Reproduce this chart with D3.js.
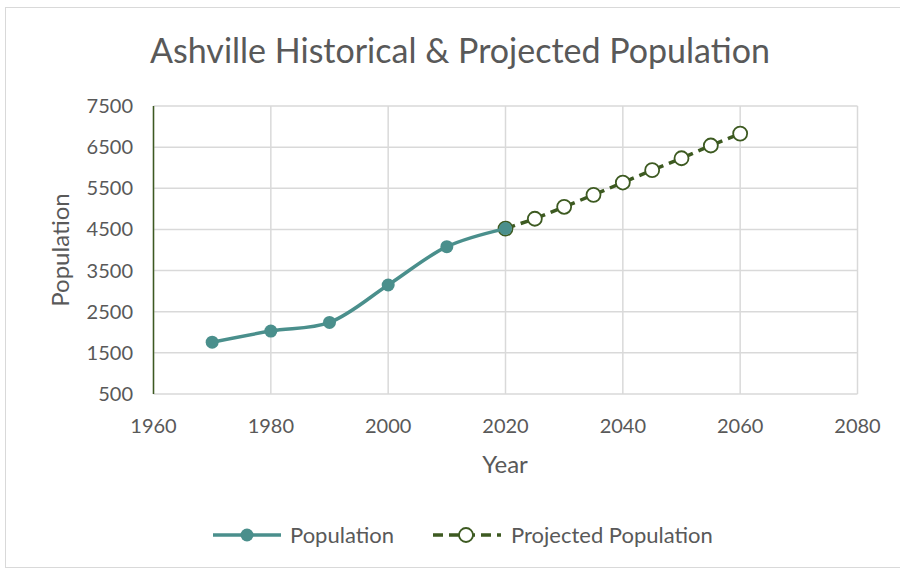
<!DOCTYPE html>
<html>
<head>
<meta charset="utf-8">
<script src="https://cdn.jsdelivr.net/npm/d3@7"></script>
<style>
  body { margin: 0; background: #fff; }
  text { font-family: Lato, "Liberation Sans", sans-serif; fill: #595959; }
</style>
</head>
<body>
<div id="chart"></div>
<script>
// data
const years = [1970, 1980, 1990, 2000, 2010, 2020];
const population = [1760, 2030, 2240, 3150, 4080, 4520];
const projYears = [2020, 2025, 2030, 2035, 2040, 2045, 2050, 2055, 2060];
const projPopulation = [4520, 4760, 5050, 5340, 5640, 5940, 6230, 6540, 6830];
const xTicks = [1960, 1980, 2000, 2020, 2040, 2060, 2080];
const yTicks = [500, 1500, 2500, 3500, 4500, 5500, 6500, 7500];

const width = 900,
    height = 573;

const teal = "#4a8f8c",
    olive = "#3d5a21";

const svg = d3.select("#chart")
  .append("svg")
    .attr("width", width)
    .attr("height", height);

// outer chart border
svg.append("rect")
  .attr("x", 5.5).attr("y", 7.5)
  .attr("width", 900).attr("height", 560)
  .attr("fill", "none")
  .attr("stroke", "#d9d9d9");

const x = d3.scaleLinear().domain([1960, 2080]).range([153.5, 857.5]);
const y = d3.scaleLinear().domain([500, 7500]).range([394, 106]);

// gridlines
svg.append("g")
  .selectAll("line")
  .data(xTicks)
  .join("line")
    .attr("x1", d => x(d)).attr("x2", d => x(d))
    .attr("y1", y(500)).attr("y2", y(7500))
    .attr("stroke", "#d9d9d9")
    .attr("stroke-width", 1.5);

svg.append("g")
  .selectAll("line")
  .data(yTicks)
  .join("line")
    .attr("x1", x(1960)).attr("x2", x(2080))
    .attr("y1", d => y(d)).attr("y2", d => y(d))
    .attr("stroke", "#d9d9d9")
    .attr("stroke-width", 1.5);

// y axis line is dark green
svg.append("line")
  .attr("x1", x(1960)).attr("x2", x(1960))
  .attr("y1", y(500)).attr("y2", y(7500))
  .attr("stroke", olive)
  .attr("stroke-width", 1.5);

// tick labels
svg.append("g")
  .selectAll("text")
  .data(yTicks)
  .join("text")
    .attr("x", 133)
    .attr("y", d => y(d) + 7)
    .attr("text-anchor", "end")
    .style("font-size", "20px")
    .text(d => d);

svg.append("g")
  .selectAll("text")
  .data(xTicks)
  .join("text")
    .attr("x", d => x(d))
    .attr("y", 433)
    .attr("text-anchor", "middle")
    .style("font-size", "20px")
    .text(d => d);

// axis titles
svg.append("text")
  .attr("x", 505).attr("y", 473)
  .attr("text-anchor", "middle")
  .style("font-size", "24px")
  .text("Year");

svg.append("text")
  .attr("transform", "translate(69, 250) rotate(-90)")
  .attr("text-anchor", "middle")
  .style("font-size", "24px")
  .text("Population");

// title
svg.append("text")
  .attr("x", 460).attr("y", 63)
  .attr("text-anchor", "middle")
  .style("font-size", "34px")
  .text("Ashville Historical & Projected Population");

// projected series
const hist = years.map((d, i) => [d, population[i]]);
const proj = projYears.map((d, i) => [d, projPopulation[i]]);

const line = d3.line()
  .x(d => x(d[0]))
  .y(d => y(d[1]));

svg.append("path")
  .datum(proj)
  .attr("d", line)
  .attr("fill", "none")
  .attr("stroke", olive)
  .attr("stroke-width", 3.5)
  .attr("stroke-dasharray", "10,6");

svg.append("g")
  .selectAll("circle")
  .data(proj)
  .join("circle")
    .attr("cx", d => x(d[0]))
    .attr("cy", d => y(d[1]))
    .attr("r", 7)
    .attr("fill", "white")
    .attr("stroke", olive)
    .attr("stroke-width", 1.8);

// historical series, smoothed like the spreadsheet
svg.append("path")
  .datum(hist)
  .attr("d", line.curve(d3.curveCatmullRom.alpha(0.5)))
  .attr("fill", "none")
  .attr("stroke", teal)
  .attr("stroke-width", 3.5);

svg.append("g")
  .selectAll("circle")
  .data(hist)
  .join("circle")
    .attr("cx", d => x(d[0]))
    .attr("cy", d => y(d[1]))
    .attr("r", 6.5)
    .attr("fill", teal);

// legend
const legend = svg.append("g");
legend.append("line")
  .attr("x1", 213).attr("x2", 281).attr("y1", 535).attr("y2", 535)
  .attr("stroke", teal).attr("stroke-width", 3.5);
legend.append("circle")
  .attr("cx", 247).attr("cy", 535).attr("r", 6.5).attr("fill", teal);
legend.append("text")
  .attr("x", 290).attr("y", 543)
  .style("font-size", "22px")
  .text("Population");

legend.append("line")
  .attr("x1", 433).attr("x2", 501).attr("y1", 535).attr("y2", 535)
  .attr("stroke", olive).attr("stroke-width", 3.5)
  .attr("stroke-dasharray", "10,6");
legend.append("circle")
  .attr("cx", 466).attr("cy", 535).attr("r", 7)
  .attr("fill", "white").attr("stroke", olive).attr("stroke-width", 1.8);
legend.append("text")
  .attr("x", 511).attr("y", 543)
  .style("font-size", "22px")
  .text("Projected Population");
</script>
</body>
</html>
